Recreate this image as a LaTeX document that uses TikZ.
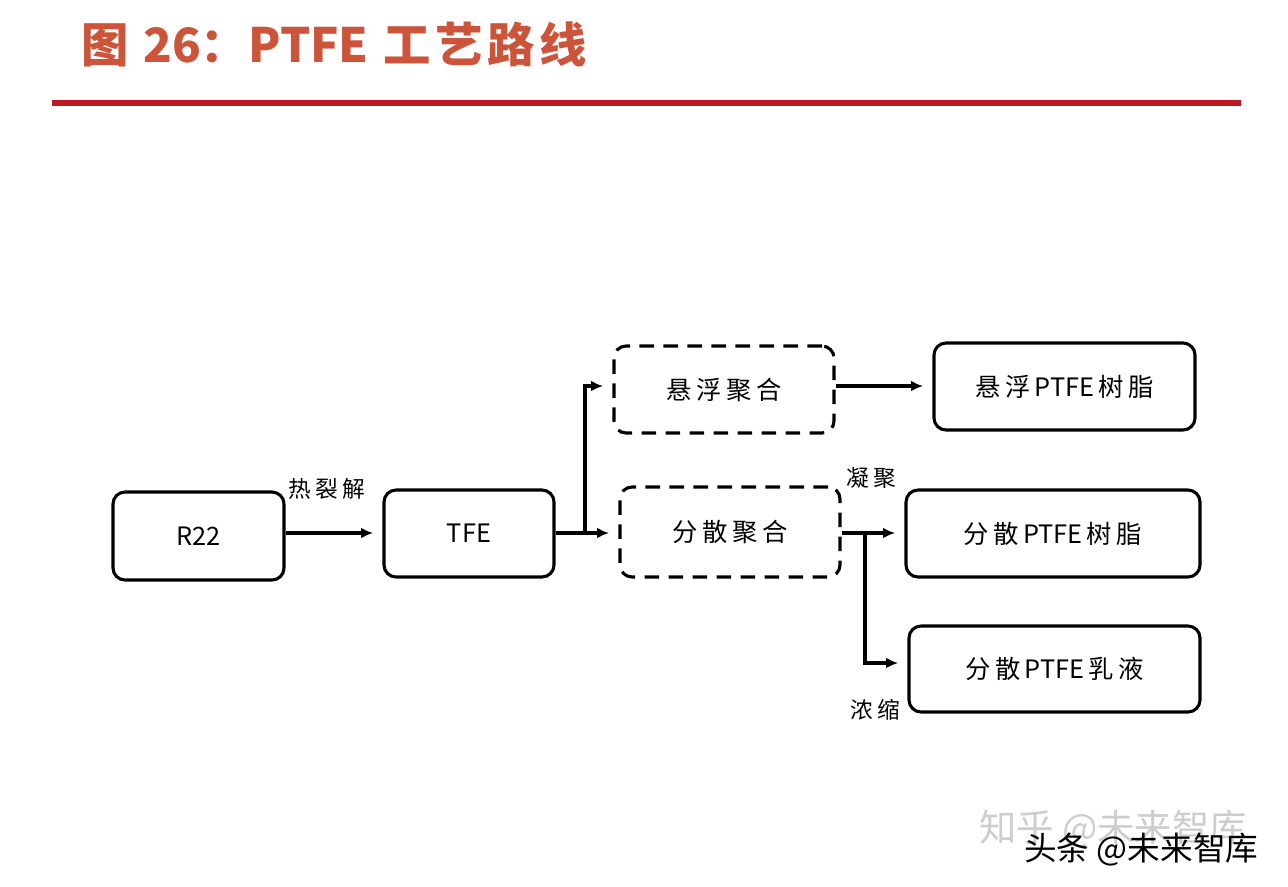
\documentclass[tikz,border=0pt]{standalone}
\usepackage{fontspec}
\newfontfamily\cjk{Noto Sans CJK SC}
\usetikzlibrary{arrows.meta}
\definecolor{titlered}{RGB}{204,84,58}
\definecolor{linered}{RGB}{192,24,32}
\definecolor{wmgray}{RGB}{205,205,205}
\newcommand{\gp}{\hspace{3.5pt}}
\tikzset{
  box/.style={draw=black, line width=2.3pt, rounded corners=9pt, align=center, inner sep=0pt, font=\cjk\fontsize{19}{22}\selectfont},
  dbox/.style={box, dash pattern=on 11pt off 7pt},
  conn/.style={line width=2.6pt, -{Latex[length=9pt,width=8pt]}, shorten >=7pt},
  lab/.style={font=\cjk\fontsize{17}{20}\selectfont, inner sep=0pt},
}
\begin{document}
\begin{tikzpicture}[x=0.75pt,y=-0.75pt]
\useasboundingbox (0,0) rectangle (1288,886);
\fill[white] (0,0) rectangle (1288,886);
% title
\node[anchor=west, text=titlered, inner sep=0pt, font=\cjk\bfseries\fontsize{35.5}{40}\selectfont] (title) at (81,44) {图\hspace{11pt}26：PTFE\hspace{11pt}工\hspace{3.5pt}艺\hspace{3.5pt}路\hspace{3.5pt}线};
\draw[linered, line width=3.8pt] (52,103) coordinate (l1) -- (1241,103) coordinate (l2);
% boxes
\node[box, minimum width=128.25pt, minimum height=66pt] (r22) at (198.5,536) {R22};
\node[box, minimum width=127.5pt, minimum height=65.25pt] (tfe) at (469,533.5) {TFE};
\node[dbox, minimum width=165pt, minimum height=65.25pt] (xf) at (724,389.5) {悬\gp 浮\gp 聚\gp 合};
\node[dbox, minimum width=165pt, minimum height=67.5pt] (fs) at (730,532) {分\gp 散\gp 聚\gp 合};
\node[box, minimum width=195.75pt, minimum height=65.25pt] (xfs) at (1064.5,386.5) {悬\gp 浮\,PTFE\,树\gp 脂};
\node[box, minimum width=220.5pt, minimum height=65.25pt] (fss) at (1053,533.5) {分\gp 散\,PTFE\,树\gp 脂};
\node[box, minimum width=218.25pt, minimum height=64.5pt] (fsr) at (1054.5,669) {分\gp 散\,PTFE\,乳\gp 液};
% connectors
\draw[conn] (r22.east |- 0,533) -- (tfe.west |- 0,533);
\coordinate (b1) at (585,533);
\draw[conn] (tfe.east |- b1) -- (fs.west |- b1);
\draw[conn] (b1) |- (xf.west |- 0,386);
\draw[conn] (xf.east |- 0,386) -- (xfs.west |- 0,386);
\coordinate (b2) at (865,533);
\draw[conn] (fs.east |- b2) -- (fss.west |- b2);
\draw[conn] (b2) |- (fsr.west |- 0,663);
% labels
\node[lab] (l_rlj) at (327,489) {热\gp 裂\gp 解};
\node[lab] (l_nj) at (871,478) {凝\gp 聚};
\node[lab] (l_ns) at (875,710) {浓\gp 缩};
% watermarks
\node[anchor=west, text=wmgray, inner sep=0pt, font=\cjk\fontsize{28}{32}\selectfont] (wm1) at (979,829) {知乎 @未来智库};
\node[anchor=west, text=black, inner sep=0pt, font=\cjk\fontsize{24.5}{28}\selectfont] (wm2) at (1024,850) {头条 @未来智库};
\end{tikzpicture}
\end{document}
